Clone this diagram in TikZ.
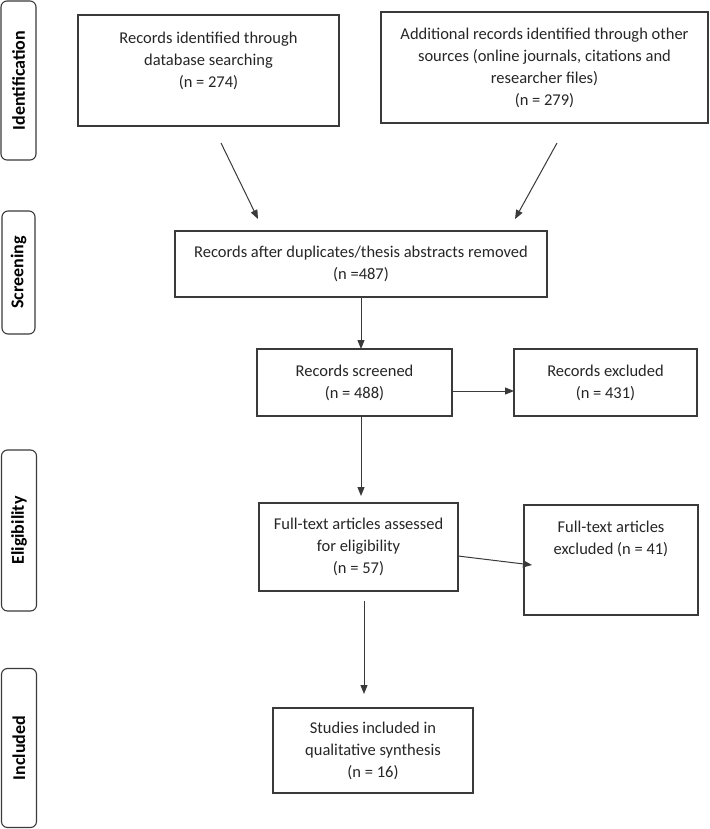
\documentclass[tikz,border=0pt]{standalone}
\usepackage{fontspec}
\setmainfont{Carlito}
\usetikzlibrary{arrows.meta}
\definecolor{linec}{HTML}{3A3A3A}
\definecolor{textc}{HTML}{262626}
\tikzset{
  box/.style={draw=linec, line width=1.1pt, align=center, inner sep=0pt, text=textc,
    font=\fontsize{16.5}{22}\selectfont},
  side/.style={draw=linec, line width=1.1pt, rounded corners=6pt, rotate=90, inner sep=0pt,
    text=black, font=\fontsize{18}{20}\selectfont\bfseries},
  arr/.style={draw=linec, line width=1pt, -{Triangle[length=9pt,width=7pt]}}
}
\begin{document}
\begin{tikzpicture}[x=1pt,y=-1pt]
\useasboundingbox[fill=white] (0,0) rectangle (709,829);
% side labels
\node[side, minimum width=159pt, minimum height=35pt] (sid) at (18.5,80.5) {Identification};
\node[side, minimum width=123pt, minimum height=33pt] (ssc) at (18.5,272.5) {Screening};
\node[side, minimum width=161pt, minimum height=35pt] (sel) at (19,530.5) {Eligibility};
\node[side, minimum width=159pt, minimum height=35pt] (sin) at (19,748) {Included};
% boxes
\node[box, minimum width=261pt, minimum height=111pt] (b1) at (208.5,70.5)
  {Records identified through\\database searching\\(n = 274)\\ \mbox{}};
\node[box, minimum width=327pt, minimum height=111pt] (b2) at (544.5,67.5)
  {Additional records identified through other\\sources (online journals, citations and\\researcher files)\\(n = 279)};
\node[box, minimum width=372pt, minimum height=66pt] (b3) at (361,264)
  {Records after duplicates/thesis abstracts removed\\(n =487)};
\node[box, minimum width=195pt, minimum height=67pt] (b4) at (354.5,382.5)
  {Records screened\\(n = 488)};
\node[box, minimum width=183pt, minimum height=67pt] (b5) at (605.5,382.5)
  {Records excluded\\(n = 431)};
\node[box, minimum width=199pt, minimum height=88pt] (b6) at (358.5,547)
  {Full-text articles assessed\\for eligibility\\(n = 57)};
\node[box, minimum width=174pt, minimum height=110pt] (b7) at (611,560)
  {Full-text articles\\excluded (n = 41)\\ \mbox{}\\ \mbox{}};
\node[box, minimum width=200pt, minimum height=85pt] (b8) at (373,750.5)
  {Studies included in\\qualitative synthesis\\(n = 16)};
% connector end points
\coordinate (a1s) at (221,143); \coordinate (a1e) at (258,219);
\coordinate (a2s) at (557,143); \coordinate (a2e) at (515,219);
\coordinate (a3s) at (361,297); \coordinate (a3e) at (361,349);
\coordinate (a4s) at (453,391); \coordinate (a4e) at (514,391);
\coordinate (a5s) at (361,417); \coordinate (a5e) at (361,496);
\coordinate (a6s) at (458,556); \coordinate (a6e) at (532,565);
\coordinate (a7s) at (364,601); \coordinate (a7e) at (364,694);
\draw[arr] (a1s) -- (a1e);
\draw[arr] (a2s) -- (a2e);
\draw[arr] (a3s) -- (a3e);
\draw[arr] (a4s) -- (a4e);
\draw[arr] (a5s) -- (a5e);
\draw[arr] (a6s) -- (a6e);
\draw[arr] (a7s) -- (a7e);
\end{tikzpicture}
\end{document}
